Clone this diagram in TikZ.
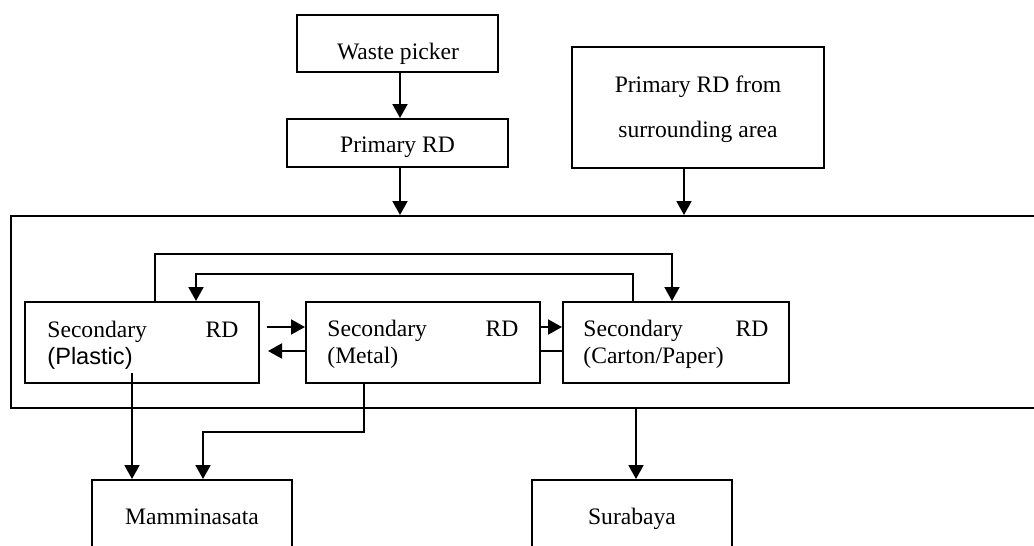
\documentclass[tikz,border=0pt]{standalone}
\usepackage{fontspec}
\setmainfont{Liberation Serif}
\newfontfamily\arialfont{Liberation Sans}
\usetikzlibrary{fit,arrows.meta}
\begin{document}
\begin{tikzpicture}[x=0.5pt,y=-0.5pt,
  box/.style={draw,line width=1pt,inner sep=0pt},
  lbl/.style={inner sep=0pt,font=\fontsize{11.8}{13.5}\selectfont},
  conn/.style={line width=1pt},
  arr/.style={conn,-{Triangle[length=7pt,width=7.5pt]}}]

% canvas
\useasboundingbox (0,0) rectangle (1034,546);
\fill[white] (0,0) rectangle (1034,546);
\clip (0,0) rectangle (1034,546);

% upper boxes
\node[box,fit={(297,15) (498,72)}] (wp) {};
\node[lbl,anchor=base] (twp) at (398,59) {Waste picker};
\node[box,fit={(287,119) (508,167)}] (prd) {};
\node[lbl,anchor=base] (tprd) at (397.5,152) {Primary RD};
\node[box,fit={(572,47) (824,168)}] (srd) {};
\node[lbl,anchor=base,font=\fontsize{11.8}{22.5}\selectfont] (tsrd) at (698,92)
  {\parbox[t]{130pt}{\centering Primary RD from\\surrounding area}};

% collecting area (open to the right)
\node[box,fit={(11,216) (1080,408)}] (hub) {};

% secondary dealers
\node[box,fit={(25,302) (259,383)}] (plastic) {};
\node[lbl,anchor=base west] (tplastic) at (47,337)
  {\parbox[t]{95.5pt}{Secondary\hfill RD\\{\arialfont(Plastic)}}};
\node[box,fit={(306,302) (540,383)}] (metal) {};
\node[lbl,anchor=base west] (tmetal) at (327,336)
  {\parbox[t]{95.5pt}{Secondary\hfill RD\\(Metal)}};
\node[box,fit={(563,302) (789,383)}] (carton) {};
\node[lbl,anchor=base west] (tcarton) at (583,336)
  {\parbox[t]{92.5pt}{Secondary\hfill RD\\(Carton/Paper)}};

% destinations
\node[box,fit={(92,480) (292,560)}] (mamm) {};
\node[lbl,anchor=base] (tmamm) at (192,524) {Mamminasata};
\node[box,fit={(532,480) (732,560)}] (sura) {};
\node[lbl,anchor=base] (tsura) at (632,524) {Surabaya};

% routing points
\coordinate (a1) at (400,0);
\coordinate (a2) at (684,0);
\coordinate (o1) at (155,254);
\coordinate (o2) at (672,254);
\coordinate (i1) at (633,274);
\coordinate (i2) at (196,274);
\coordinate (pa) at (267,327);
\coordinate (pb) at (268,351);
\coordinate (pd) at (132,373);
\coordinate (m1) at (364,432);
\coordinate (m2) at (203,432);
\coordinate (s1) at (636,0);

% inflow
\draw[arr] (wp.south -| a1) -- (prd.north -| a1);
\draw[arr] (prd.south -| a1) -- (hub.north -| a1);
\draw[arr] (srd.south -| a2) -- (hub.north -| a2);

% exchanges between dealers
\draw[arr] (plastic.north -| o1) -- (o1) -- (o2) -- (carton.north -| o2);
\draw[arr] (carton.north -| i1) -- (i1) -- (i2) -- (plastic.north -| i2);
\draw[arr] (pa) -- (pa -| metal.west);
\draw[arr] (pb -| metal.west) -- (pb);
\draw[arr] (metal.east |- pa) -- (carton.west |- pa);
\draw[conn] (metal.east |- pb) -- (carton.west |- pb);

% outflow
\draw[arr] (pd) -- (pd |- mamm.north);
\draw[arr] (metal.south -| m1) -- (m1) -- (m2) -- (m2 |- mamm.north);
\draw[arr] (hub.south -| s1) -- (s1 |- sura.north);
\end{tikzpicture}
\end{document}
